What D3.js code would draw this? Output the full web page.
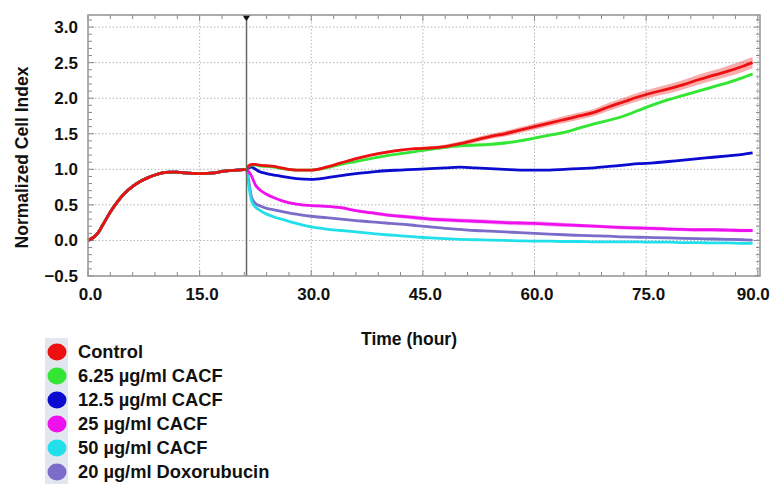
<!DOCTYPE html>
<html>
<head>
<meta charset="utf-8">
<script src="https://cdn.jsdelivr.net/npm/d3@7"></script>
<style>
  body { margin: 0; background: #fff; }
  text { font-family: "Liberation Sans", Arial, sans-serif; font-weight: bold; }
</style>
</head>
<body>
<div class="chart-container"></div>
<script>
// Time points (hours)
const preHours = [0, 1.3, 2, 3, 4, 5, 6, 7, 8, 9, 10, 11, 12, 13, 15, 17, 18, 20, 21.3];
const postHours = [21.5, 22, 22.5, 23, 24, 25, 26, 28, 30, 32, 34, 36, 38, 40, 42, 44, 46, 48, 50,
    52, 54, 56, 58, 60, 62, 64, 66, 68, 70, 72, 74, 76, 78, 80, 82, 84, 86, 88, 89.3];

// Before treatment every well follows the same curve
const baseline = [0, 0.1, 0.22, 0.4, 0.55, 0.67, 0.76, 0.83, 0.88, 0.92, 0.95, 0.96, 0.96, 0.95, 0.94, 0.95, 0.97, 0.99, 1.0];

const control = [1.04, 1.07, 1.07, 1.06, 1.05, 1.04, 1.02, 0.99, 0.99, 1.03, 1.09, 1.15, 1.2, 1.24, 1.27, 1.29, 1.3, 1.32, 1.36,
    1.41, 1.46, 1.5, 1.55, 1.6, 1.65, 1.7, 1.75, 1.8, 1.88, 1.95, 2.02, 2.08, 2.13, 2.19, 2.26, 2.32, 2.38, 2.45, 2.5];
const cacf625 = [1.03, 1.06, 1.06, 1.05, 1.04, 1.03, 1.01, 0.99, 0.99, 1.02, 1.07, 1.11, 1.15, 1.19, 1.22, 1.25, 1.28, 1.31, 1.33,
    1.34, 1.35, 1.37, 1.4, 1.44, 1.48, 1.52, 1.58, 1.64, 1.69, 1.75, 1.83, 1.91, 1.98, 2.04, 2.1, 2.16, 2.22, 2.29, 2.34];
const cacf125 = [1.02, 1.03, 1.0, 0.97, 0.94, 0.92, 0.9, 0.87, 0.86, 0.88, 0.91, 0.94, 0.96, 0.98, 0.99, 1.0, 1.01, 1.02, 1.03,
    1.02, 1.01, 1.0, 0.99, 0.99, 0.99, 1.0, 1.01, 1.02, 1.04, 1.06, 1.08, 1.09, 1.11, 1.13, 1.15, 1.17, 1.19, 1.21, 1.23];
const cacf25 = [0.98, 0.9, 0.78, 0.72, 0.65, 0.6, 0.56, 0.51, 0.49, 0.48, 0.46, 0.42, 0.39, 0.36, 0.34, 0.32, 0.3, 0.29, 0.28,
    0.27, 0.26, 0.25, 0.245, 0.24, 0.23, 0.22, 0.21, 0.2, 0.19, 0.18, 0.175, 0.17, 0.16, 0.155, 0.15, 0.15, 0.145, 0.14, 0.14];
const cacf50 = [0.85, 0.55, 0.47, 0.43, 0.37, 0.33, 0.3, 0.24, 0.19, 0.16, 0.14, 0.12, 0.1, 0.08, 0.065, 0.05, 0.035, 0.025, 0.015,
    0.01, 0.005, 0.0, -0.005, -0.01, -0.01, -0.015, -0.015, -0.02, -0.02, -0.02, -0.02, -0.025, -0.025, -0.03, -0.03, -0.035, -0.035, -0.04, -0.04];
const doxo = [0.9, 0.6, 0.52, 0.49, 0.45, 0.43, 0.41, 0.37, 0.34, 0.32, 0.3, 0.28, 0.26, 0.245, 0.23, 0.21, 0.19, 0.17, 0.155,
    0.14, 0.13, 0.12, 0.11, 0.1, 0.09, 0.08, 0.07, 0.065, 0.06, 0.05, 0.045, 0.04, 0.035, 0.03, 0.025, 0.02, 0.015, 0.01, 0.005];

// Standard deviation (post treatment) for the wells with visible error bars
const controlSd = [0.01, 0.01, 0.01, 0.01, 0.01, 0.01, 0.01, 0.01, 0.01, 0.01, 0.01, 0.015, 0.015, 0.02, 0.02, 0.02, 0.025, 0.03, 0.03,
    0.035, 0.035, 0.04, 0.04, 0.045, 0.045, 0.05, 0.05, 0.05, 0.055, 0.055, 0.06, 0.06, 0.065, 0.065, 0.07, 0.07, 0.075, 0.08, 0.08];
const cacf625Sd = [0.01, 0.01, 0.01, 0.01, 0.01, 0.01, 0.01, 0.01, 0.01, 0.01, 0.01, 0.01, 0.01, 0.01, 0.01, 0.015, 0.015, 0.02, 0.02,
    0.025, 0.025, 0.025, 0.02, 0.02, 0.02, 0.02, 0.02, 0.02, 0.02, 0.02, 0.02, 0.02, 0.02, 0.02, 0.02, 0.02, 0.02, 0.02, 0.02];
const cacf25Sd = [0.01, 0.01, 0.01, 0.01, 0.01, 0.01, 0.015, 0.015, 0.015, 0.02, 0.02, 0.02, 0.025, 0.025, 0.025, 0.03, 0.03, 0.03, 0.03,
    0.03, 0.03, 0.03, 0.03, 0.03, 0.03, 0.03, 0.025, 0.025, 0.025, 0.025, 0.025, 0.025, 0.025, 0.025, 0.025, 0.025, 0.025, 0.025, 0.025];

const seriesNames = ['Control', '6.25 \u00b5g/ml CACF', '12.5 \u00b5g/ml CACF', '25 \u00b5g/ml CACF', '50 \u00b5g/ml CACF', '20 \u00b5g/ml Doxorubucin'];
const seriesColors = ['#ec1010', '#33e633', '#0c0cd0', '#ee11ee', '#22e0ea', '#7a6cc8'];
const seriesValues = [control, cacf625, cacf125, cacf25, cacf50, doxo];
const seriesSd = [controlSd, cacf625Sd, null, cacf25Sd, null, null];

const xTicks = [0, 15, 30, 45, 60, 75, 90];
const yTicks = [-0.5, 0, 0.5, 1.0, 1.5, 2.0, 2.5, 3.0];
const treatmentHour = 21.3;

// Layout
const width = 771, height = 484;
const plot = { left: 88, right: 760, top: 15, bottom: 276 };

const x = d3.scaleLinear().domain([0, 90.3]).range([plot.left, plot.right]);
const y = d3.scaleLinear().domain([-0.5, 3.17]).range([plot.bottom, plot.top]);

const svg = d3.select('.chart-container')
    .append('svg')
    .attr('width', width)
    .attr('height', height);

// Grid
svg.append('g')
    .selectAll('line')
    .data(xTicks.slice(1))
    .join('line')
    .attr('x1', d => x(d)).attr('x2', d => x(d))
    .attr('y1', plot.top).attr('y2', plot.bottom)
    .attr('stroke', '#b5b5b5')
    .attr('stroke-dasharray', '1.5,2');

svg.append('g')
    .selectAll('line')
    .data(yTicks.slice(1))
    .join('line')
    .attr('x1', plot.left).attr('x2', plot.right)
    .attr('y1', d => y(d)).attr('y2', d => y(d))
    .attr('stroke', '#b5b5b5')
    .attr('stroke-dasharray', '1.5,2');

// Minor ticks, pointing inward on all four sides
const ticks = svg.append('g').attr('stroke', '#888').attr('stroke-width', 1);
d3.range(0, 91, 3).forEach(h => {
    const len = h % 15 === 0 ? 6 : 4;
    ticks.append('line').attr('x1', x(h)).attr('x2', x(h)).attr('y1', plot.top).attr('y2', plot.top + len);
    ticks.append('line').attr('x1', x(h)).attr('x2', x(h)).attr('y1', plot.bottom).attr('y2', plot.bottom - len);
});
d3.range(-5, 32).forEach(i => {
    const v = i / 10;
    const len = i % 5 === 0 ? 6 : 4;
    ticks.append('line').attr('x1', plot.left).attr('x2', plot.left + len).attr('y1', y(v)).attr('y2', y(v));
    ticks.append('line').attr('x1', plot.right).attr('x2', plot.right - len).attr('y1', y(v)).attr('y2', y(v));
});

// Series
const line = d3.line()
    .x(d => x(d.h))
    .y(d => y(d.v))
    .curve(d3.curveMonotoneX);

const band = d3.area()
    .x(d => x(d.h))
    .y0(d => y(d.v - d.sd))
    .y1(d => y(d.v + d.sd))
    .curve(d3.curveMonotoneX);

const series = seriesNames.map((name, i) => ({
    name: name,
    color: seriesColors[i],
    points: preHours.map((h, j) => ({ h: h, v: baseline[j], sd: 0 }))
        .concat(postHours.map((h, j) => ({ h: h, v: seriesValues[i][j], sd: seriesSd[i] ? seriesSd[i][j] : 0.008 })))
}));

// draw Control last so it sits on top, like the original
const drawOrder = series.slice().reverse();

svg.append('g')
    .selectAll('path')
    .data(drawOrder)
    .join('path')
    .attr('d', d => band(d.points))
    .attr('fill', d => d.color)
    .attr('fill-opacity', 0.35);

svg.append('g')
    .selectAll('path')
    .data(drawOrder)
    .join('path')
    .attr('d', d => line(d.points))
    .attr('fill', 'none')
    .attr('stroke', d => d.color)
    .attr('stroke-width', 2.8)
    .attr('stroke-linejoin', 'round');

// Treatment marker
svg.append('line')
    .attr('x1', x(treatmentHour)).attr('x2', x(treatmentHour))
    .attr('y1', plot.top).attr('y2', plot.bottom)
    .attr('stroke', '#666')
    .attr('stroke-width', 1.5);

svg.append('path')
    .attr('d', `M${x(treatmentHour) - 4},${plot.top} L${x(treatmentHour) + 4},${plot.top} L${x(treatmentHour)},${plot.top + 6} Z`)
    .attr('fill', '#111');

// Frame
svg.append('rect')
    .attr('x', plot.left).attr('y', plot.top)
    .attr('width', plot.right - plot.left)
    .attr('height', plot.bottom - plot.top)
    .attr('fill', 'none')
    .attr('stroke', '#999')
    .attr('stroke-width', 1.6);

// Axes
const xAxis = svg.append('g')
    .attr('transform', `translate(0, ${plot.bottom})`)
    .call(d3.axisBottom(x).tickValues(xTicks).tickFormat(d3.format('.1f')).tickSize(0).tickPadding(12));
xAxis.select('.domain').remove();
xAxis.selectAll('text')
    .attr('font-size', 17)
    .attr('fill', '#111')
    .attr('dx', d => d === 90 ? -5 : 2);

const yAxis = svg.append('g')
    .attr('transform', `translate(${plot.left}, 0)`)
    .call(d3.axisLeft(y).tickValues(yTicks).tickFormat(d3.format('.1f')).tickSize(0).tickPadding(10));
yAxis.select('.domain').remove();
yAxis.selectAll('text')
    .attr('font-size', 17)
    .attr('fill', '#111');

svg.append('text')
    .attr('transform', `translate(28, ${(plot.top + plot.bottom) / 2 + 12}) rotate(-90)`)
    .attr('text-anchor', 'middle')
    .attr('font-size', 17.5)
    .attr('fill', '#111')
    .text('Normalized Cell Index');

svg.append('text')
    .attr('x', 409)
    .attr('y', 345)
    .attr('text-anchor', 'middle')
    .attr('font-size', 17.5)
    .attr('fill', '#111')
    .text('Time (hour)');

// Legend
const legend = svg.append('g');
legend.append('rect')
    .attr('x', 45).attr('y', 338)
    .attr('width', 23).attr('height', height - 338)
    .attr('fill', '#e2e6ee');

const rows = legend.selectAll('g')
    .data(series)
    .join('g')
    .attr('transform', (d, i) => `translate(57, ${352 + i * 24})`);

rows.append('ellipse')
    .attr('rx', 9.5).attr('ry', 8.5)
    .attr('fill', d => d.color);

rows.append('text')
    .attr('x', 21)
    .attr('y', 6)
    .attr('font-size', 18.3)
    .attr('fill', '#111')
    .text(d => d.name);
</script>
</body>
</html>
